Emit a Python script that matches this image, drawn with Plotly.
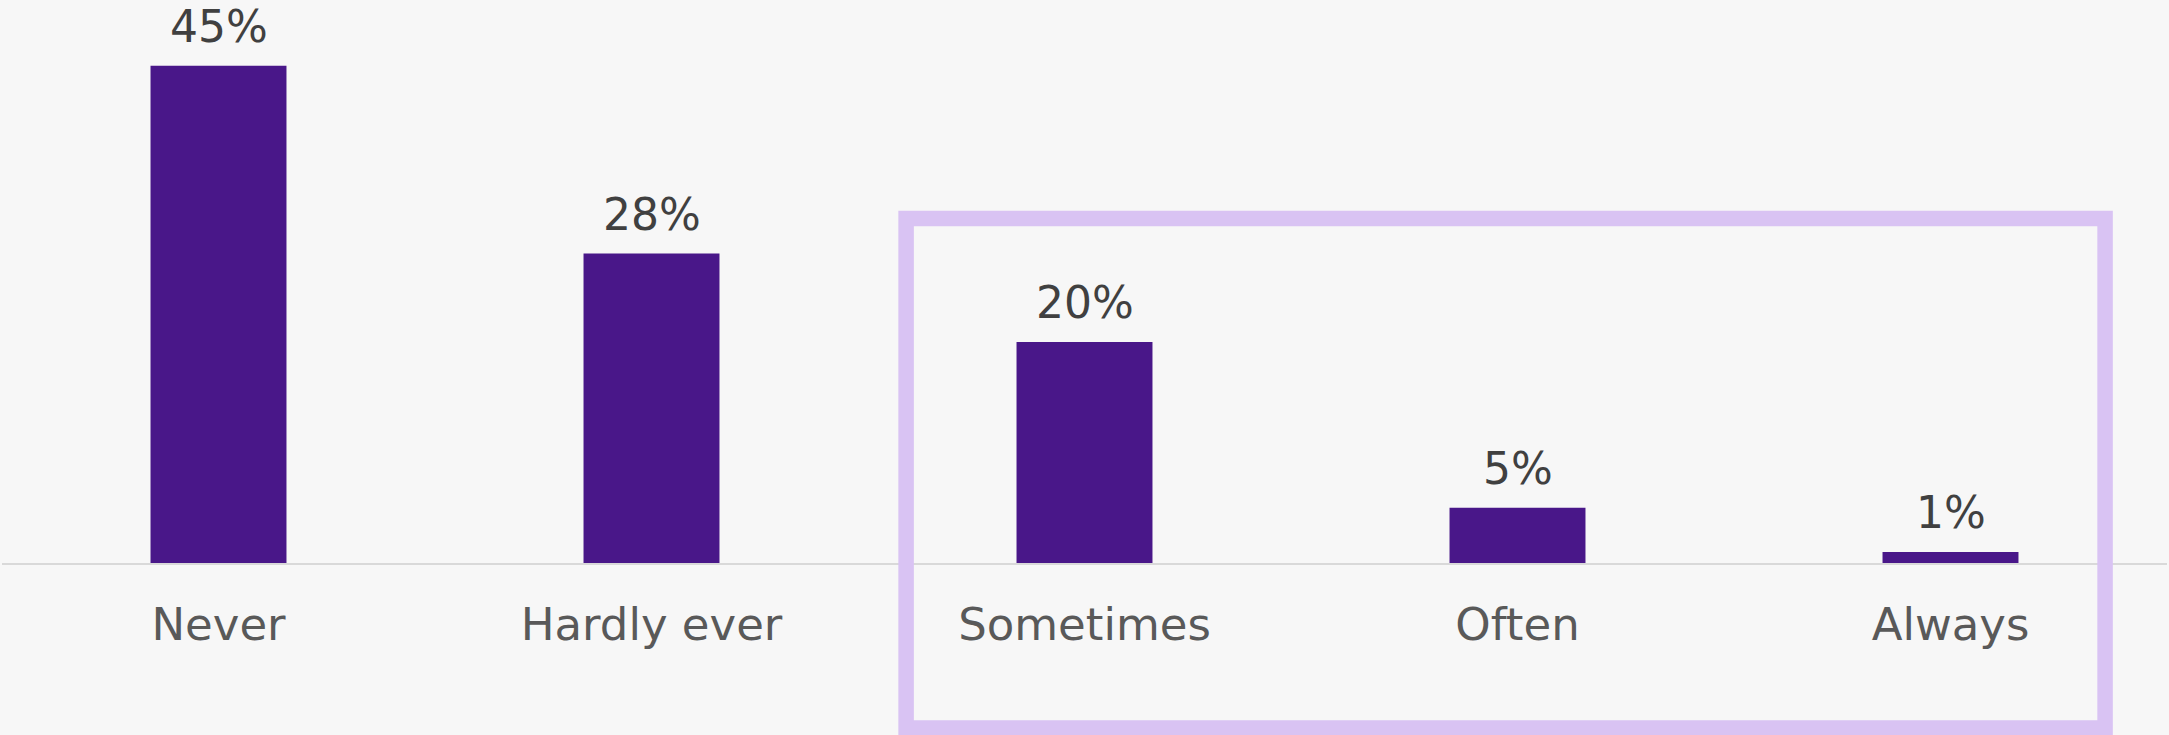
import plotly.graph_objects as go

categories = ["Never", "Hardly ever", "Sometimes", "Often", "Always"]
values = [45, 28, 20, 5, 1]
value_labels = ["45%", "28%", "20%", "5%", "1%"]

BAR_COLOR = "#491789"
BOX_COLOR = "#D9C3F3"
BG = "#F7F7F7"
FONT = "DejaVu Sans"

fig = go.Figure()
fig.add_trace(go.Bar(
    x=categories, y=values,
    marker=dict(color=BAR_COLOR, line=dict(width=0)),
    hoverinfo="skip",
))

for c, v, t in zip(categories, values, value_labels):
    fig.add_annotation(x=c, y=v, text=t, showarrow=False, yanchor="bottom",
                       yshift=12, font=dict(family=FONT, size=44, color="#404040"))

# highlight box around the last three categories
fig.add_shape(type="rect", xref="paper", yref="paper",
              x0=0.4176, x1=0.9714, y0=-0.2929, y1=0.6117,
              line=dict(color=BOX_COLOR, width=15.5), fillcolor="rgba(0,0,0,0)",
              layer="above")

fig.update_layout(
    width=2169, height=735,
    margin=dict(l=2, r=2, t=0, b=172),
    paper_bgcolor=BG, plot_bgcolor=BG,
    bargap=0.686,
    showlegend=False,
    font=dict(family=FONT),
)
fig.update_xaxes(
    showline=True, linecolor="#D9D9D9", linewidth=2,
    showgrid=False, ticks="", ticklabelstandoff=21,
    tickfont=dict(family=FONT, size=45, color="#595959"),
)
fig.update_yaxes(range=[0, 50.95], visible=False, showgrid=False, zeroline=False)

fig.write_html("out.html",
               config={"displayModeBar": False},
               post_script="document.body.style.margin='0';document.body.style.padding='0';document.body.style.background='#F7F7F7';")
